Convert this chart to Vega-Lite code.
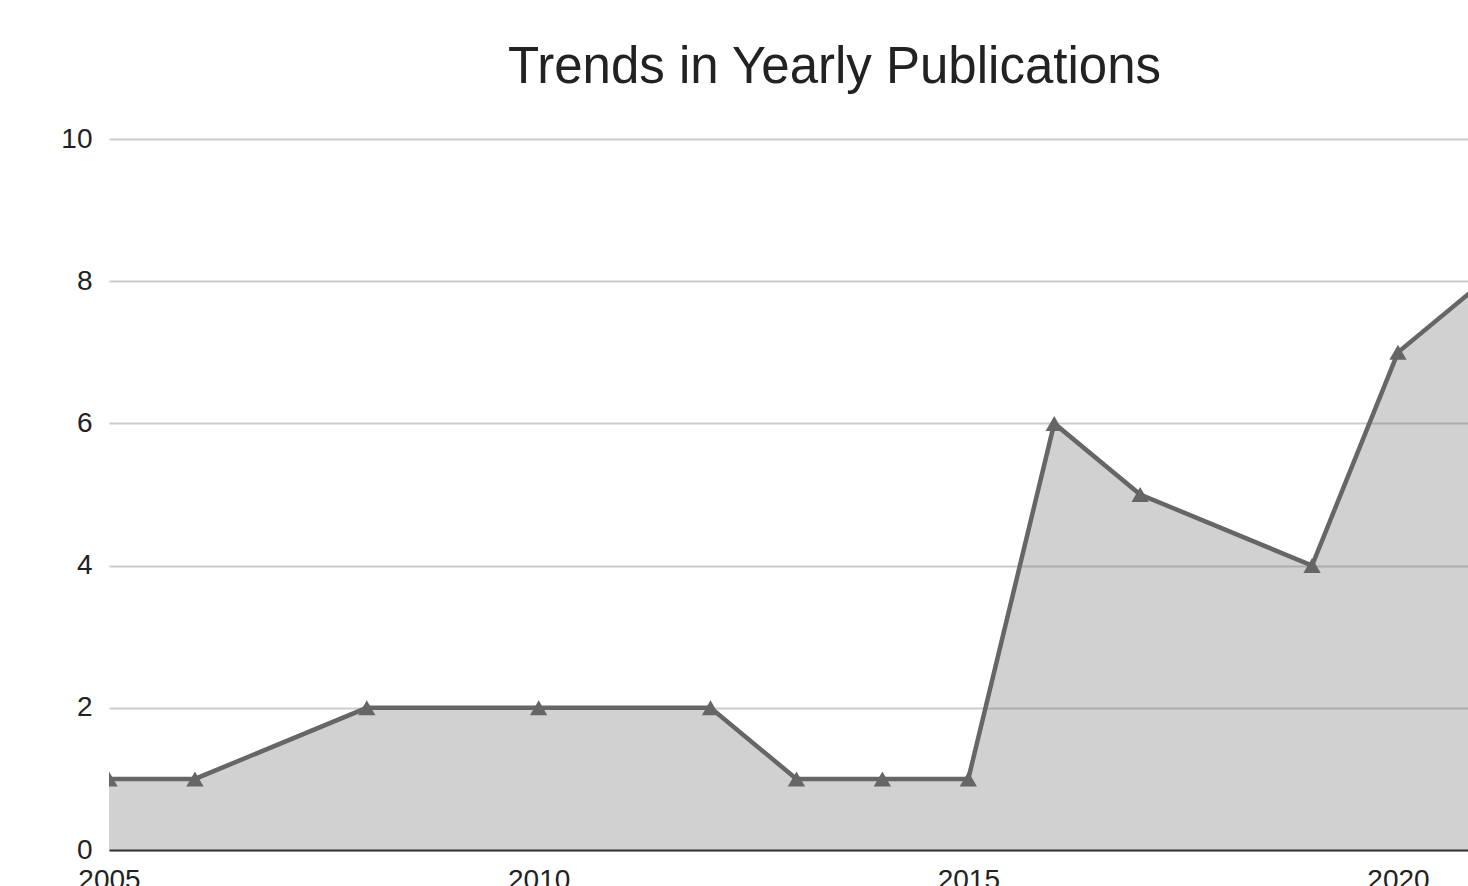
{
  "$schema": "https://vega.github.io/schema/vega-lite/v6.json",
  "autosize": {"type": "none"},
  "padding": {"left": 109, "top": 139, "right": 0, "bottom": 36},
  "width": 1359,
  "height": 711,
  "background": "white",
  "title": {
    "text": "Trends in Yearly Publications",
    "font": "Liberation Sans",
    "fontSize": 51,
    "fontWeight": "normal",
    "color": "#222222",
    "anchor": "middle",
    "frame": "group",
    "dx": 46,
    "offset": 31
  },
  "data": {
    "values": [
      {"year": 2005, "count": 1},
      {"year": 2006, "count": 1},
      {"year": 2008, "count": 2},
      {"year": 2010, "count": 2},
      {"year": 2012, "count": 2},
      {"year": 2013, "count": 1},
      {"year": 2014, "count": 1},
      {"year": 2015, "count": 1},
      {"year": 2016, "count": 6},
      {"year": 2017, "count": 5},
      {"year": 2019, "count": 4},
      {"year": 2020, "count": 7},
      {"year": 2021, "count": 8}
    ]
  },
  "encoding": {
    "x": {
      "field": "year",
      "type": "quantitative",
      "scale": {"domain": [2005, 2020.815], "nice": false, "zero": false},
      "axis": {
        "title": null,
        "values": [2005, 2010, 2015, 2020],
        "format": "d",
        "grid": false,
        "ticks": false,
        "domain": true,
        "domainColor": "#333333",
        "domainWidth": 2,
        "labelFont": "Liberation Sans",
        "labelFontSize": 28,
        "labelColor": "#222222",
        "labelPadding": 16,
        "labelFlush": false,
        "labelOverlap": false
      }
    },
    "y": {
      "field": "count",
      "type": "quantitative",
      "scale": {"domain": [0, 10], "nice": false},
      "axis": {
        "title": null,
        "values": [0, 2, 4, 6, 8, 10],
        "grid": true,
        "gridColor": "#cccccc",
        "gridWidth": 2,
        "ticks": false,
        "domain": false,
        "labelFont": "Liberation Sans",
        "labelFontSize": 28,
        "labelColor": "#222222",
        "labelPadding": 17
      }
    }
  },
  "layer": [
    {
      "mark": {"type": "area", "color": "#666666", "fillOpacity": 0.3, "clip": true}
    },
    {
      "mark": {"type": "line", "color": "#666666", "strokeWidth": 4.5, "clip": true}
    },
    {
      "mark": {"type": "point", "shape": "triangle-up", "filled": true, "color": "#666666", "opacity": 1, "size": 300, "clip": true}
    }
  ],
  "config": {"view": {"stroke": null}}
}
